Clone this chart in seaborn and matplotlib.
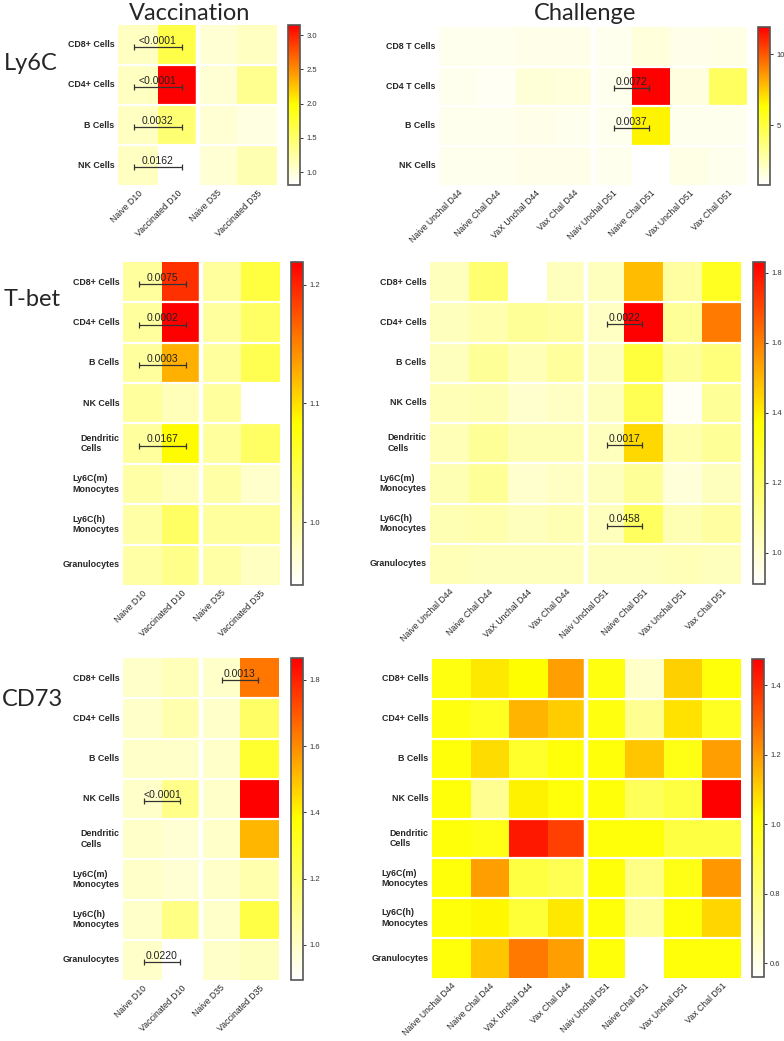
import matplotlib
matplotlib.use("Agg")
import matplotlib.pyplot as plt
import pandas as pd
import seaborn as sns
from matplotlib.colors import LinearSegmentedColormap

# column / row labels
vac_cols = ["Naive D10", "Vaccinated D10", "Naive D35", "Vaccinated D35"]
chal_cols = ["Naive Unchal D44", "Naive Chal D44", "VaX Unchal D44", "Vax Chal D44",
             "Naiv Unchal D51", "Naive Chal D51", "Vax Unchal D51", "Vax Chal D51"]
ly6c_vac_rows = ["CD8+ Cells", "CD4+ Cells", "B Cells", "NK Cells"]
ly6c_chal_rows = ["CD8 T Cells", "CD4 T Cells", "B Cells", "NK Cells"]
full_rows = ["CD8+ Cells", "CD4+ Cells", "B Cells", "NK Cells", "Dendritic\nCells",
             "Ly6C(m)\nMonocytes", "Ly6C(h)\nMonocytes", "Granulocytes"]

# fold change values
ly6c_vac = [
    [1.10, 1.65, 1.02, 1.10],
    [1.10, 3.15, 1.02, 1.33],
    [1.10, 1.45, 1.02, 0.95],
    [1.10, 0.81, 1.02, 1.17],
]
ly6c_chal = [
    [1.2, 1.2, 1.3, 1.3, 1.2, 1.6, 1.3, 1.4],
    [1.2, 1.1, 1.7, 1.6, 1.2, 11.9, 1.5, 4.3],
    [1.2, 1.2, 1.3, 1.2, 1.2, 6.6, 1.2, 1.2],
    [1.2, 1.2, 1.3, 1.3, 1.2, 0.8, 1.4, 1.2],
]
tbet_vac = [
    [1.000, 1.193, 1.000, 1.050],
    [1.000, 1.219, 1.000, 1.030],
    [1.000, 1.125, 1.000, 1.040],
    [1.000, 0.985, 1.000, 0.947],
    [1.000, 1.085, 1.000, 1.030],
    [0.995, 0.985, 0.995, 0.975],
    [0.995, 1.030, 1.000, 1.000],
    [0.995, 1.010, 0.995, 0.980],
]
tbet_chal = [
    [1.03, 1.17, 0.91, 1.03, 1.03, 1.49, 1.08, 1.31],
    [1.03, 1.06, 1.10, 1.08, 1.02, 1.83, 1.10, 1.61],
    [1.03, 1.10, 1.04, 1.09, 1.03, 1.26, 1.10, 1.15],
    [1.04, 1.05, 1.00, 1.02, 1.03, 1.22, 0.93, 1.10],
    [1.04, 1.10, 1.05, 1.05, 1.03, 1.44, 1.06, 1.10],
    [1.05, 1.10, 1.00, 1.02, 1.03, 1.10, 0.98, 1.03],
    [1.05, 1.06, 1.03, 1.05, 1.03, 1.20, 1.05, 1.08],
    [1.04, 1.03, 1.03, 1.03, 1.03, 1.03, 1.04, 1.03],
]
cd73_vac = [
    [1.00, 1.03, 1.00, 1.64],
    [1.00, 1.05, 1.00, 1.19],
    [1.00, 1.00, 1.00, 1.29],
    [1.00, 1.12, 1.00, 1.866],
    [1.00, 0.98, 1.00, 1.52],
    [1.00, 0.98, 1.00, 1.05],
    [1.00, 1.13, 1.00, 1.25],
    [1.00, 0.894, 1.00, 1.02],
]
cd73_chal = [
    [0.99, 1.06, 1.02, 1.19, 0.99, 0.66, 1.10, 1.00],
    [0.99, 0.96, 1.15, 1.11, 0.99, 0.76, 1.07, 0.96],
    [1.00, 1.08, 0.94, 1.00, 1.00, 1.12, 0.98, 1.19],
    [1.00, 0.76, 1.04, 1.00, 1.00, 0.86, 0.90, 1.475],
    [1.00, 0.98, 1.43, 1.36, 1.00, 1.00, 0.90, 0.90],
    [1.00, 1.19, 0.90, 0.87, 1.00, 0.78, 0.98, 1.20],
    [1.00, 1.03, 0.92, 1.06, 1.00, 0.74, 1.00, 1.09],
    [1.00, 1.12, 1.26, 1.19, 1.00, 0.56, 1.00, 1.00],
]

# p values: (row, col a, col b, label)
ly6c_vac_p = [(0, 0, 1, "<0.0001"), (1, 0, 1, "<0.0001"), (2, 0, 1, "0.0032"), (3, 0, 1, "0.0162")]
ly6c_chal_p = [(1, 4, 5, "0.0072"), (2, 4, 5, "0.0037")]
tbet_vac_p = [(0, 0, 1, "0.0075"), (1, 0, 1, "0.0002"), (2, 0, 1, "0.0003"), (4, 0, 1, "0.0167")]
tbet_chal_p = [(1, 4, 5, "0.0022"), (4, 4, 5, "0.0017"), (6, 4, 5, "0.0458")]
cd73_vac_p = [(0, 2, 3, "0.0013"), (3, 0, 1, "<0.0001"), (7, 0, 1, "0.0220")]
cd73_chal_p = []

W, H = 784, 1041
cmap = LinearSegmentedColormap.from_list("wyr", ["#ffffff", "#ffff00", "#ff0000"])

sns.set_style("white")
plt.rcParams["font.family"] = ["Liberation Sans", "DejaVu Sans"]


def px_axes(fig, x0, y0, x1, y1):
    return fig.add_axes([x0 / W, 1 - y1 / H, (x1 - x0) / W, (y1 - y0) / H])


def draw_panel(fig, values, rows, cols, heat_box, cbar_box, ticks, fmt, split, pvals, pad):
    ax = px_axes(fig, *heat_box)
    cax = px_axes(fig, *cbar_box)
    data = pd.DataFrame(values, index=rows, columns=cols)
    sns.heatmap(data, cmap=cmap, ax=ax, cbar_ax=cax,
                cbar_kws={"ticks": ticks, "format": fmt})

    # white gaps between rows and between the two time points
    for i in range(1, len(rows)):
        ax.axhline(i, color="white", lw=1.6)
    ax.axvline(split, color="white", lw=3.2)

    ax.tick_params(length=0, pad=2.5)
    ax.set_xlabel("")
    ax.set_ylabel("")
    for lab in ax.get_xticklabels():
        lab.set_rotation(45)
        lab.set_ha("right")
        lab.set_rotation_mode("anchor")
        lab.set_fontsize(6.3)
    for lab in ax.get_yticklabels():
        lab.set_rotation(0)
        lab.set_fontsize(6.4)
        lab.set_fontweight("bold")
        lab.set_multialignment("left")

    for r, a, b, txt in pvals:
        x0, x1 = a + 0.5 - pad, b + 0.5 + pad
        y = r + 0.55
        ax.plot([x0, x1], [y, y], color="#333333", lw=0.9,
                marker="|", markersize=4, markeredgewidth=0.9)
        ax.text((x0 + x1) / 2, y - 0.03, txt, ha="center", va="bottom",
                fontsize=7.5, color="#222222")

    cax.tick_params(labelsize=5.5, length=2.5, width=0.7, colors="#333333", pad=2)
    cbar = ax.collections[0].colorbar
    cbar.outline.set_edgecolor("#555555")
    cbar.outline.set_linewidth(1.2)
    return ax


fig = plt.figure(figsize=(W / 100, H / 100), dpi=100)

draw_panel(fig, ly6c_vac, ly6c_vac_rows, vac_cols, (118, 25, 277, 185), (288, 25, 300, 185),
           [1.0, 1.5, 2.0, 2.5, 3.0], "%.1f", 2, ly6c_vac_p, 0.1)
draw_panel(fig, ly6c_chal, ly6c_chal_rows, chal_cols, (439, 27, 747, 185), (758, 27, 770, 185),
           [5, 10], "%d", 4, ly6c_chal_p, -0.05)
draw_panel(fig, tbet_vac, full_rows, vac_cols, (123, 262, 280, 585), (291, 262, 303, 585),
           [1.0, 1.1, 1.2], "%.1f", 2, tbet_vac_p, 0.1)
draw_panel(fig, tbet_chal, full_rows, chal_cols, (430, 262, 741, 584), (753, 262, 765, 584),
           [1.0, 1.2, 1.4, 1.6, 1.8], "%.1f", 4, tbet_chal_p, -0.05)
draw_panel(fig, cd73_vac, full_rows, vac_cols, (123, 658, 279, 980), (291, 658, 303, 980),
           [1.0, 1.2, 1.4, 1.6, 1.8], "%.1f", 2, cd73_vac_p, -0.05)
draw_panel(fig, cd73_chal, full_rows, chal_cols, (432, 659, 741, 978), (752, 659, 764, 977),
           [0.6, 0.8, 1.0, 1.2, 1.4], "%.1f", 4, cd73_chal_p, -0.05)

# big row / column headings
big = dict(fontsize=17, family=["Lato", "DejaVu Sans"])
fig.text(190 / W, 1 - 14 / H, "Vaccination", ha="center", va="center", **big)
fig.text(585 / W, 1 - 14 / H, "Challenge", ha="center", va="center", **big)
fig.text(4 / W, 1 - 63 / H, "Ly6C", ha="left", va="center", **big)
fig.text(4 / W, 1 - 300 / H, "T-bet", ha="left", va="center", **big)
fig.text(2 / W, 1 - 700 / H, "CD73", ha="left", va="center", **big)

fig.savefig("out.png", dpi=100)
plt.close(fig)
